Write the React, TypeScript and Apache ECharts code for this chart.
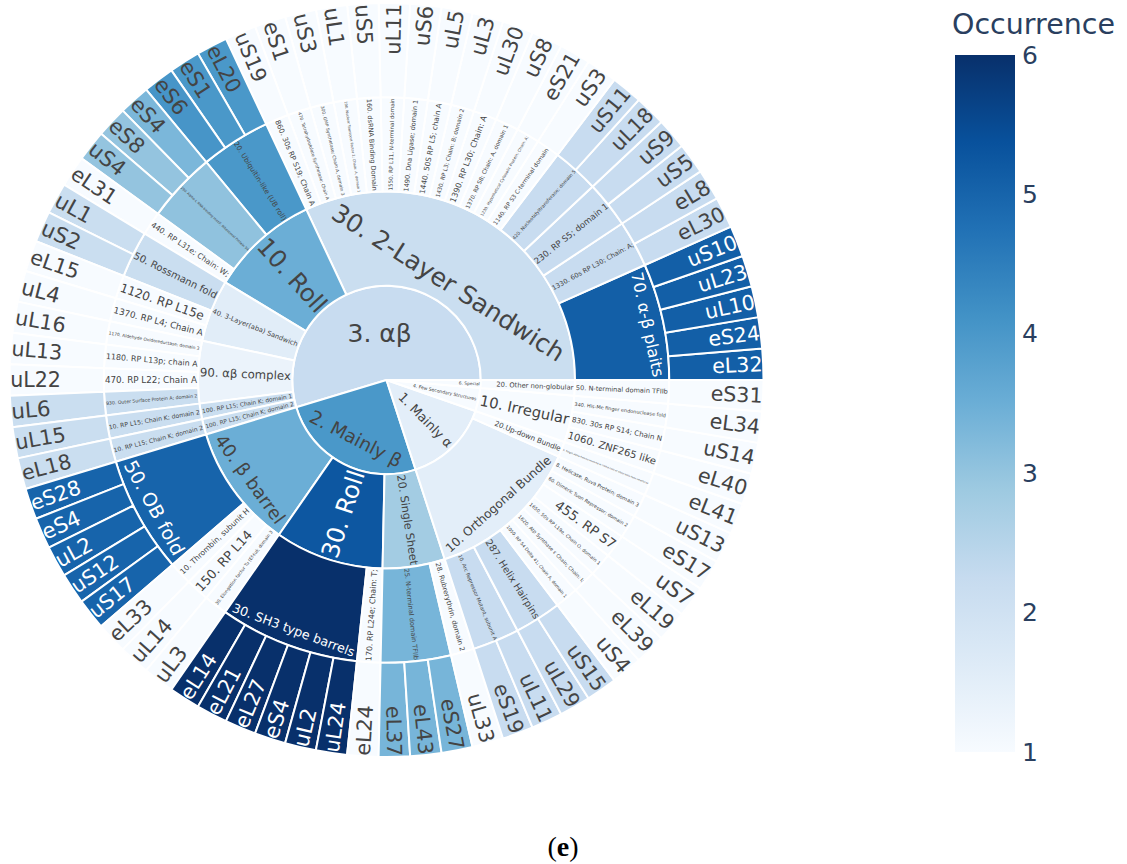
import React, { useEffect, useRef } from "react";
import * as echarts from "echarts";

// ---------------- data ----------------
const classNames = ["3. αβ", "2. Mainly β", "1. Mainly α", "4. Few Secondary Structures", "6. Special"];
const classOccurrence = [2.2, 4.0, 1.5, 1.0, 1.0];

const archNames = [
  "30. 2-Layer Sandwich",
  "10. Roll",
  "40. 3-Layer(aba) Sandwich",
  "90. αβ complex",
  "100. RP L15; Chain K; domain 1",
  "100. RP L15; Chain K; domain 2",
  "40. β barrel",
  "30. Roll",
  "20. Single Sheet",
  "10. Orthogonal Bundle",
  "20.Up-down Bundle",
  "10. Irregular",
  "20. Other non-globular",
];
const archClass = [0, 0, 0, 0, 0, 0, 1, 1, 1, 2, 2, 3, 4];
const archOccurrence = [2.15, 3.5, 1.55, 1.3, 2.15, 2.15, 3.5, 5.25, 2.8, 1.5, 1.0, 1.0, 1.0];

const topoNames = [
  "70. α-β plaits",
  "1330. 60s RP L30; Chain: A;",
  "230. RP S5; domain 1",
  "420. Nucleotidyltransferase; domain 5",
  "1140. RP S3 C-terminal domain",
  "1230. Hypothetical Cytosolic Protein; Chain: A;",
  "1370. RP S8; Chain: A, domain 1",
  "1390. RP L30; Chain: A",
  "1430. RP L3; Chain: B; domain 2",
  "1440. 50S RP L5; chain A",
  "1490. Dna Ligase; domain 1",
  "1550. RP L11, N-terminal domain",
  "160. dsRNA Binding Domain",
  "190. Nuclear Transport Factor 2; Chain: A, domain 1",
  "300. GMP Synthetase; Chain A, domain 3",
  "470. Tetrahydrofolate Synthetase; Chain A",
  "860. 30s RP S19; Chain A",
  "20. Ubiquitin-like (UB roll)",
  "290. Alpha-L RNA-binding motif; Ribosomal Protein S4",
  "440. RP L31e; Chain: W;",
  "50. Rossmann fold",
  "1120. RP L15e",
  "1370. RP L4; Chain A",
  "1170. Aldehyde Oxidoreductase; domain 3",
  "1180. RP L13p; chain A",
  "470. RP L22; Chain A",
  "930. Outer Surface Protein A; domain 2",
  "10. RP L15; Chain K; domain 2",
  "10. RP L15; Chain K; domain 2",
  "50. OB fold",
  "10. Thrombin, subunit H",
  "150. RP L14",
  "30. Elongation factor Tu (Ef-tu); domain 3",
  "30. SH3 type barrels",
  "170. RP L24e; Chain: T;",
  "25. N-terminal domain TFIIb",
  "28. Rubrerythrin, domain 2",
  "10. Arc Repressor Mutant, subunit A",
  "287. Helix Hairpins",
  "1050. RP S4 Delta 41; Chain A, domain 1",
  "1620. Atp Synthase ε Chain; Chain: I;",
  "1650. 50s RP L19e, Chain O, domain 1",
  "455. RP S7",
  "60. Dimeric Tuon Repressor; domain 2",
  "8. Helicase, Ruva Protein; domain 3",
  "5. Single alpha-helices involved in coiled-coils or other helix-helix interfaces",
  "1060. ZNF265 like",
  "830. 30s RP S14; Chain N",
  "340. His-Me finger endonuclease fold",
  "50. N-terminal domain TFIIb",
];
const topoArch = [
  0, 0, 0, 0, 0, 0, 0, 0, 0, 0, 0, 0, 0, 0, 0, 0, 0,
  1, 1, 1,
  2, 2, 2,
  3, 3, 3, 3,
  4, 5,
  6, 6, 6, 6,
  7, 7,
  8, 8,
  9, 9, 9, 9, 9, 9, 9, 9,
  10,
  11, 11, 11,
  12,
];
const topoOccurrence = [
  5.1, 2.2, 2.2, 2.2,
  1, 1, 1, 1, 1, 1, 1, 1, 1, 1, 1, 1, 1,
  4.0, 3.05, 1,
  2.15, 1, 1,
  1, 1, 1, 2.15,
  2.15, 2.15,
  5.0, 1, 1, 1,
  6.0, 1,
  3.35, 1,
  2.2, 2.2, 1, 1, 1, 1, 1, 1,
  1,
  1, 1, 1,
  1,
];

const leafNames = [
  "eL32", "eS24", "uL10", "uL23", "uS10", "eL30", "eL8", "uS5", "uS9", "uL18",
  "uS11", "uS3", "eS21", "uS8", "uL30", "uL3", "uL5", "uS6", "uL11", "uS5",
  "uL1", "uS3", "eS1", "uS19", "eL20", "eS1", "eS6", "eS4", "eS8", "uS4",
  "eL31", "uL1", "uS2", "eL15", "uL4", "uL16", "uL13", "uL22", "uL6", "uL15",
  "eL18", "eS28", "eS4", "uL2", "uS12", "uS17", "eL33", "uL14", "uL3", "eL14",
  "eL21", "eL27", "eS4", "uL2", "uL24", "eL24", "eL37", "eL43", "eS27", "uL33",
  "eS19", "uL11", "uL29", "uS15", "uS4", "eL39", "eL19", "uS7", "eS17", "uS13",
  "eL41", "eL40", "uS14", "eL34", "eS31",
];
const leafTopo = [
  0, 0, 0, 0, 0, 1, 1, 2, 2, 3,
  3, 4, 5, 6, 7, 8, 9, 10, 11, 12,
  13, 14, 15, 16, 17, 17, 17, 18, 18, 18,
  19, 20, 20, 21, 22, 23, 24, 25, 26, 27,
  28, 29, 29, 29, 29, 29, 30, 31, 32, 33,
  33, 33, 33, 33, 33, 34, 35, 35, 35, 36,
  37, 37, 38, 38, 39, 40, 41, 42, 43, 44,
  45, 46, 47, 48, 49,
];
const leafOccurrence = [
  5.1, 5.1, 5.1, 5.1, 5.1, 2.2, 2.2, 2.2, 2.2, 2.2,
  2.2, 1, 1, 1, 1, 1, 1, 1, 1, 1,
  1, 1, 1, 1, 4.0, 4.0, 4.05, 3.3, 3.0, 3.0,
  1, 2.15, 2.15, 1, 1, 1, 1, 1, 2.15, 2.15,
  2.15, 5.0, 5.0, 5.0, 5.0, 5.0, 1, 1, 1, 6,
  6, 6, 6, 6, 6, 1, 3.35, 3.35, 3.35, 1,
  2.2, 2.2, 2.2, 2.2, 1, 1, 1, 1, 1, 1,
  1, 1, 1, 1, 1,
];

const colorbarTicks = [1, 2, 3, 4, 5, 6];
const colorbarTitle = "Occurrence";
const captionLetter = "e";

// ---------------- styles / geometry ----------------
const BLUES = ["#f7fbff", "#deebf7", "#c6dbef", "#9ecae1", "#6baed6", "#4292c6", "#2171b5", "#08519c", "#08306b"];
const OCC_MIN = 1;
const OCC_MAX = 6;
const CX = 386.5;
const CY = 380;
const RADII = [0, 94.25, 188.5, 282.75, 377];
const FONT = '"DejaVu Sans", Verdana, sans-serif';
const BASE_FONT = 25;
const BOX_H = 1.3;
const TEXTPAD = 3;
const TWO_PI = Math.PI * 2;
const BAR = { x: 955, y: 55, w: 60, h: 697 };
const AXIS_COLOR = "#2a3f5f";
const SERIF = '"Liberation Serif", "Times New Roman", serif';

function hexToRgb(h: string) {
  const n = parseInt(h.slice(1), 16);
  return [(n >> 16) & 255, (n >> 8) & 255, n & 255];
}
function occRgb(v: number) {
  const t = Math.min(1, Math.max(0, (v - OCC_MIN) / (OCC_MAX - OCC_MIN)));
  const x = t * (BLUES.length - 1);
  const i = Math.min(BLUES.length - 2, Math.floor(x));
  const f = x - i;
  const a = hexToRgb(BLUES[i]);
  const b = hexToRgb(BLUES[i + 1]);
  return [0, 1, 2].map((k) => Math.round(a[k] + (b[k] - a[k]) * f));
}

// plotly-like inside-text fitting, expressed as ECharts label options
function fitLabel(width: number, depth: number, start: number, count: number, total: number) {
  const unit = TWO_PI / total;
  const half = (count * unit) / 2;
  const alpha = (start + count / 2) * unit;
  const r0 = RADII[depth - 1];
  const r1 = RADII[depth];
  const h = BOX_H * BASE_FONT;
  const w = width;
  const ring = 1 - r0 / r1;
  const full = r0 === 0 && count === total;
  const rIns = full ? 1 : Math.max(0, Math.min(1 / (1 + 1 / Math.sin(half)), ring / 2));
  const cands: { kind: string; scale: number; rc: number }[] = [];
  cands.push({ kind: "h", scale: (rIns * r1 * 2) / Math.hypot(w, h), rc: (1 - rIns) * r1 });
  if (cands[0].scale < 1) {
    const r = Math.max(0, r1 - 2 * TEXTPAD);
    const maxHalf = (a: number) => {
      const q = a + 1 / (2 * Math.tan(half));
      return r * Math.min(1 / (Math.sqrt(q * q + 0.5) + q), ring / (Math.sqrt(a * a + ring / 2) + a));
    };
    let a = w / h;
    let s = maxHalf(a);
    cands.push({ kind: "r", scale: (2 * s) / h, rc: (Math.cos(s / r) - (a * s) / r) * r1 });
    a = h / w;
    s = maxHalf(a);
    cands.push({ kind: "t", scale: (2 * s) / w, rc: (Math.cos(s / r) - (a * s) / r) * r1 });
  }
  let best = cands[0];
  for (const c of cands) if (c.scale > best.scale) best = c;

  let th = best.kind === "h" ? 0 : best.kind === "r" ? alpha : alpha + Math.PI / 2;
  th = ((th % TWO_PI) + TWO_PI) % TWO_PI;
  if (th > Math.PI / 2 + 1e-9 && th <= 1.5 * Math.PI + 1e-9) th -= Math.PI;
  else if (th > 1.5 * Math.PI) th -= TWO_PI;

  // ECharts anchors the label at mid radius; move it to plotly's target radius
  const rm = (r0 + r1) / 2;
  const D = best.rc - rm;
  const dx = D * Math.cos(alpha - th);
  const dy = D * Math.sin(th - alpha);
  const padding = [0, Math.max(0, -2 * dx), 0, Math.max(0, 2 * dx)];
  let verticalAlign = "middle";
  let lineHeight: number | undefined = undefined;
  if (dy > 0.3) {
    verticalAlign = "top";
    lineHeight = 2 * dy;
  } else if (dy < -0.3) {
    verticalAlign = "bottom";
    lineHeight = -2 * dy;
  }
  return {
    fontSize: Math.round(BASE_FONT * Math.min(1, best.scale) * 100) / 100,
    rotate: (th * 180) / Math.PI,
    padding,
    verticalAlign,
    lineHeight,
  };
}

function buildData() {
  const canvas = document.createElement("canvas");
  const ctx = canvas.getContext("2d") as CanvasRenderingContext2D;
  ctx.font = `${BASE_FONT}px ${FONT}`;
  const measure = (t: string) => ctx.measureText(t).width;
  const total = leafNames.length;

  const topoSpan = topoNames.map(() => ({ start: Infinity, count: 0 }));
  leafTopo.forEach((t, i) => {
    topoSpan[t].start = Math.min(topoSpan[t].start, i);
    topoSpan[t].count += 1;
  });
  const archSpan = archNames.map(() => ({ start: Infinity, count: 0 }));
  topoArch.forEach((a, i) => {
    archSpan[a].start = Math.min(archSpan[a].start, topoSpan[i].start);
    archSpan[a].count += topoSpan[i].count;
  });
  const classSpan = classNames.map(() => ({ start: Infinity, count: 0 }));
  archClass.forEach((c, i) => {
    classSpan[c].start = Math.min(classSpan[c].start, archSpan[i].start);
    classSpan[c].count += archSpan[i].count;
  });

  const node = (name: string, occ: number, depth: number, span: { start: number; count: number }) => {
    const rgb = occRgb(occ);
    const bright = (rgb[0] * 299 + rgb[1] * 587 + rgb[2] * 114) / 1000;
    const lab = fitLabel(measure(name), depth, span.start, span.count, total);
    const label: any = {
      fontSize: lab.fontSize,
      rotate: lab.rotate,
      padding: lab.padding,
      verticalAlign: lab.verticalAlign,
      color: bright < 128 ? "#ffffff" : "#444444",
    };
    if (lab.lineHeight !== undefined) label.lineHeight = lab.lineHeight;
    return {
      name,
      itemStyle: { color: `rgb(${rgb[0]},${rgb[1]},${rgb[2]})`, borderColor: "#ffffff", borderWidth: 2 },
      label,
    };
  };

  const leaves = leafNames.map((n, i) => ({ ...node(n, leafOccurrence[i], 4, { start: i, count: 1 }), value: 1 }));
  const topos = topoNames.map((n, i) => ({
    ...node(n, topoOccurrence[i], 3, topoSpan[i]),
    children: leaves.filter((_, j) => leafTopo[j] === i),
  }));
  const archs = archNames.map((n, i) => ({
    ...node(n, archOccurrence[i], 2, archSpan[i]),
    children: topos.filter((_, j) => topoArch[j] === i),
  }));
  return classNames.map((n, i) => ({
    ...node(n, classOccurrence[i], 1, classSpan[i]),
    children: archs.filter((_, j) => archClass[j] === i),
  }));
}

export default function App() {
  const ref = useRef<HTMLDivElement>(null);
  useEffect(() => {
    if (!ref.current) return;
    const chart = echarts.init(ref.current, undefined, { renderer: "svg" });
    const data = buildData();
    const gradStops = BLUES.slice()
      .reverse()
      .map((c, i) => ({ offset: i / (BLUES.length - 1), color: c }));
    const tickY = (v: number) => BAR.y + BAR.h - ((v - OCC_MIN) / (OCC_MAX - OCC_MIN)) * BAR.h;

    chart.setOption({
      animation: false,
      backgroundColor: "#ffffff",
      series: [
        {
          type: "sunburst",
          center: [CX, CY],
          startAngle: 0,
          clockwise: false,
          sort: null,
          nodeClick: false,
          emphasis: { focus: "none" },
          label: { show: true, fontFamily: FONT, align: "center", verticalAlign: "middle" },
          levels: [
            {},
            { r0: RADII[0], r: RADII[1] },
            { r0: RADII[1], r: RADII[2] },
            { r0: RADII[2], r: RADII[3] },
            { r0: RADII[3], r: RADII[4] },
          ],
          data,
        },
      ],
      graphic: [
        {
          type: "rect",
          silent: true,
          shape: { x: BAR.x, y: BAR.y, width: BAR.w, height: BAR.h },
          style: { fill: new echarts.graphic.LinearGradient(0, 0, 0, 1, gradStops) },
        },
        ...colorbarTicks.map((v) => ({
          type: "text",
          silent: true,
          x: BAR.x + BAR.w + 7,
          y: tickY(v),
          style: {
            text: String(v),
            fontSize: 25,
            fontFamily: FONT,
            fill: AXIS_COLOR,
            align: "left",
            verticalAlign: "middle",
            textAlign: "left",
            textVerticalAlign: "middle",
          },
        })),
        {
          type: "text",
          silent: true,
          x: 952,
          y: 24,
          style: {
            text: colorbarTitle,
            fontSize: 28.5,
            fontFamily: FONT,
            fill: AXIS_COLOR,
            align: "left",
            verticalAlign: "middle",
            textAlign: "left",
            textVerticalAlign: "middle",
          },
        },
        {
          type: "text",
          silent: true,
          x: 563,
          y: 846,
          style: {
            text: `{p|(}{b|${captionLetter}}{p|)}`,
            align: "center",
            verticalAlign: "middle",
            textAlign: "center",
            textVerticalAlign: "middle",
            rich: {
              p: { fontSize: 28, fontFamily: SERIF, fill: "#000000", color: "#000000" },
              b: { fontSize: 28, fontWeight: "bold", fontFamily: SERIF, fill: "#000000", color: "#000000" },
            },
          },
        },
      ],
    });
    return () => chart.dispose();
  }, []);
  return <div ref={ref} style={{ position: "absolute", left: 0, top: 0, width: 1127, height: 864 }} />;
}
